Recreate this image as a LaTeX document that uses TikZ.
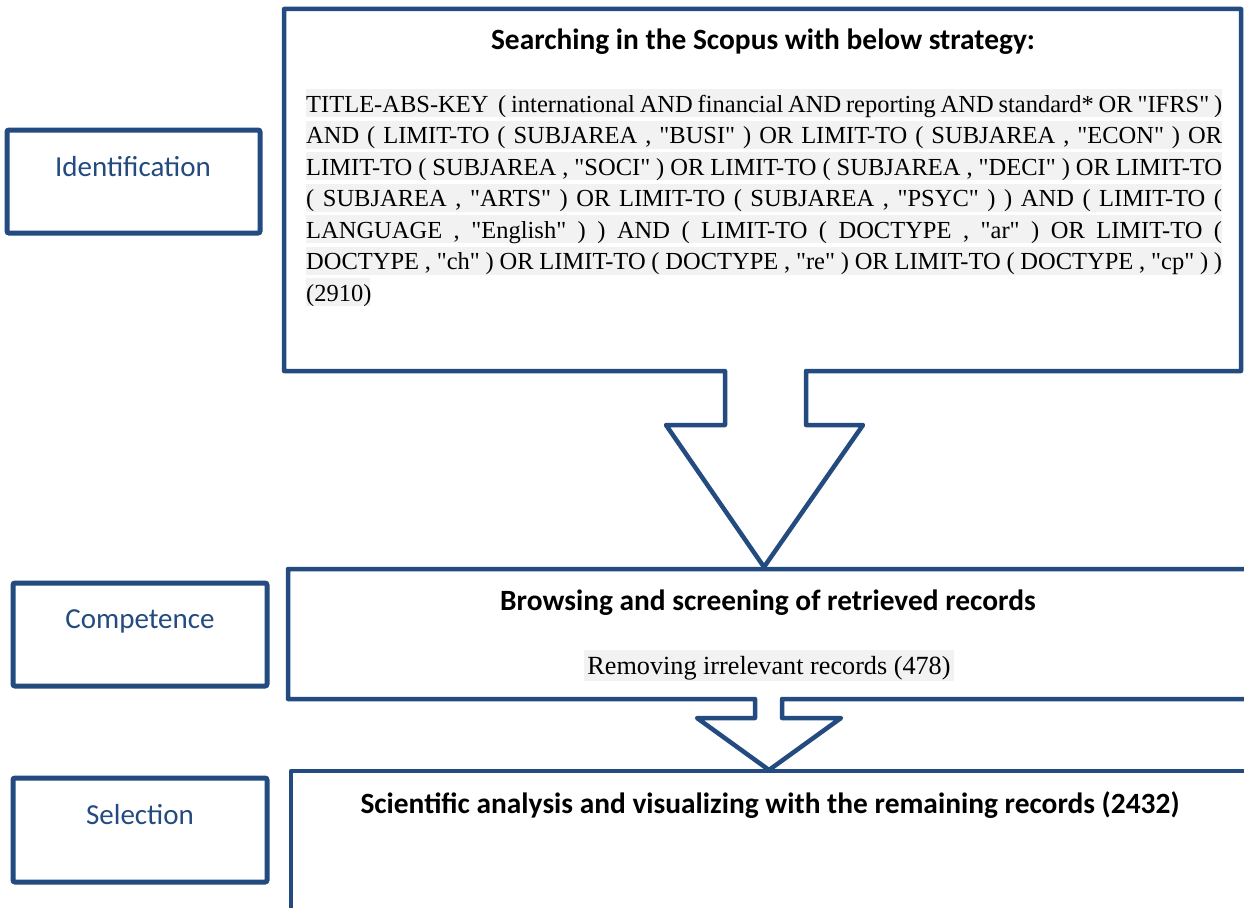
\documentclass[tikz,border=0pt]{standalone}
\usepackage{fontspec}
\setmainfont{Liberation Serif}[Ligatures=TeXOff]
\newfontfamily\calfont{Carlito}
\definecolor{boxblue}{HTML}{234B80}
\definecolor{hlgray}{HTML}{F2F2F2}
\tikzset{
  bigbox/.style={draw=boxblue, line width=4.5pt, line join=round},
  labelbox/.style={draw=boxblue, line width=5pt, rounded corners=2pt},
  labeltext/.style={anchor=base, inner sep=0pt, text=boxblue, font=\calfont\fontsize{29}{32}\selectfont},
  headtext/.style={anchor=base, inner sep=0pt, font=\calfont\bfseries\fontsize{29.4}{32}\selectfont},
  bodyline/.style={anchor=base west, inner sep=0pt, font=\fontsize{24.5}{31.5}\selectfont},
}
\newcommand{\jline}[1]{\makebox[916pt][s]{#1}}
\begin{document}
\begin{tikzpicture}[x=1pt,y=-1pt]
\useasboundingbox (0,0) rectangle (1244,907);
\fill[white] (0,0) rectangle (1244,907);
\begin{scope}
\clip (0,0) rectangle (1244,907);
% top box with arrow
\draw[bigbox] (284,9) -- (1241,9) -- (1241,371) -- (806,371) -- (806,425) -- (863,425)
  -- (764,567) -- (666,425) -- (725,425) -- (725,371) -- (284,371) -- cycle;
% second box with arrow
\draw[bigbox] (1260,569) -- (288,569) -- (288,699) -- (755,699) -- (755,718) -- (697,718)
  -- (769,770) -- (841,718) -- (782,718) -- (782,699) -- (1260,699);
% third box
\draw[bigbox] (291,920) -- (291,771) -- (1260,771);
\end{scope}
% left label boxes
\draw[labelbox] (7,130) rectangle (260,233);
\draw[labelbox] (13,583) rectangle (267,686);
\draw[labelbox] (13,778) rectangle (267,882);
\node[labeltext] (ident) at (133,176) {Identification};
\node[labeltext] (comp) at (140,628) {Competence};
\node[labeltext] (sel) at (140,824) {Selection};
% headings
\node[headtext] (h1) at (763,50) {Searching in the Scopus with below strategy:};
\node[headtext] (h2) at (768,610) {Browsing and screening of retrieved records};
\node[headtext] (h3) at (770,813) {Scientific analysis and visualizing with the remaining records (2432)};
% highlighted query text
\foreach \b in {112,143.5,175,206.5,238,269.5}{
  \fill[hlgray] (306,\b-23) rectangle (1222,\b+5);
}
\fill[hlgray] (306,301-23) rectangle (370,301+5);
\node[bodyline] (q1) at (306,112) {\jline{TITLE-ABS-KEY \ ( international AND financial AND reporting AND standard* OR "IFRS" )}};
\node[bodyline] (q2) at (306,143.5) {\jline{AND ( LIMIT-TO ( SUBJAREA , "BUSI" ) OR LIMIT-TO ( SUBJAREA , "ECON" ) OR}};
\node[bodyline] (q3) at (306,175) {\jline{LIMIT-TO ( SUBJAREA , "SOCI" ) OR LIMIT-TO ( SUBJAREA , "DECI" ) OR LIMIT-TO}};
\node[bodyline] (q4) at (306,206.5) {\jline{( SUBJAREA , "ARTS" ) OR LIMIT-TO ( SUBJAREA , "PSYC" ) ) AND ( LIMIT-TO (}};
\node[bodyline] (q5) at (306,238) {\jline{LANGUAGE , "English" ) ) AND ( LIMIT-TO ( DOCTYPE , "ar" ) OR LIMIT-TO (}};
\node[bodyline] (q6) at (306,269.5) {\jline{DOCTYPE , "ch" ) OR LIMIT-TO ( DOCTYPE , "re" ) OR LIMIT-TO ( DOCTYPE , "cp" ) )}};
\node[bodyline] (q7) at (306,301) {(2910)};
% removing records
\fill[hlgray] (584,650) rectangle (954,681);
\node[anchor=base, inner sep=0pt, font=\fontsize{26.2}{31.5}\selectfont] (rem) at (769,674) {Removing irrelevant records (478)};
\end{tikzpicture}
\end{document}
